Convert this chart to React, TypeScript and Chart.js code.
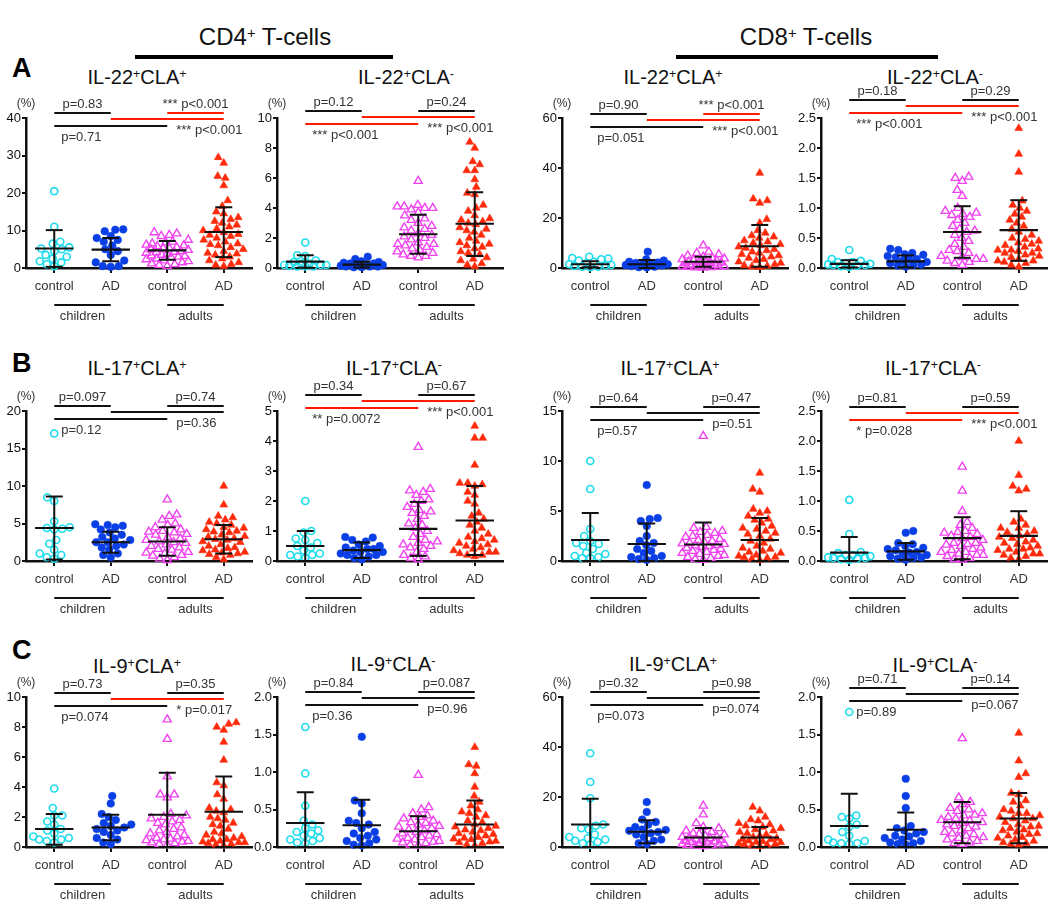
import React, { useEffect, useRef } from "react";
import { Chart, registerables } from "chart.js";
Chart.register(...registerables);

const FONT = '"Liberation Sans", Arial, Helvetica, sans-serif';

// ---------- labels ----------
const CATEGORIES = ["control", "AD", "control", "AD"];
const AGE_GROUPS = ["children", "adults"];
const SUBSETS = ["CD4", "CD8"];
const ROW_LETTERS = ["A", "B", "C"];
const CYTOKINES = ["IL-22", "IL-17", "IL-9"];
const CLA_SIGNS = ["+", "-", "+", "-"];
const UNIT_LABEL = "(%)";

// ---------- y axes (per panel, row-major A1..C4) ----------
const Y_MAX = [40, 10, 60, 2.5, 20, 5, 15, 2.5, 10, 2, 60, 2];
const Y_STEP = [10, 2, 20, 0.5, 5, 1, 5, 0.5, 2, 0.5, 20, 0.5];

// ---------- A: IL-22 ----------
const A1_cc = [20.5, 11, 7, 6.5, 5.5, 5.2, 5, 4.5, 3.5, 3, 2.5, 1.8, 1.5, 1, 0.5];
const A1_ca = [10.3, 10.2, 9.8, 8.5, 8, 7.5, 7, 6, 5, 4.5, 3.5, 2, 1.5, 0.5, 0.3, 0.5];
const A1_ac = [9.5, 9.2, 8.8, 8.5, 7.5, 7, 6.8, 6.5, 6.2, 6, 5.8, 5.5, 5.2, 5, 4.8, 4.5, 4.2, 4, 3.8, 3.5, 3.2, 3, 2.8, 2.5, 2.3, 2, 1.8, 1.5, 1.2, 1, 0.8, 0.5, 3.3, 4.3, 5.3];
const A1_aa = [29.5, 28, 24.5, 24, 22, 18, 16.5, 15, 14.5, 13.5, 13, 12.5, 12, 11.5, 11, 10.5, 10, 9.5, 9, 8.5, 8, 7.5, 7, 6.5, 6, 5.5, 5, 4.5, 4, 3.5, 3, 2.5, 2, 1.5, 1, 0.8, 0.5, 3.8, 6.3, 8.8];
const A1_mean = [5.2, 4.9, 4.7, 9.6];
const A1_low = [0.3, 1.8, 2.2, 2.9];
const A1_high = [10.1, 8.0, 7.2, 16.2];
const A1_p = ["p=0.83", "*** p<0.001", "p=0.71", "*** p<0.001"];
const A1_sig = [false, true, false, true];

const A2_cc = [1.7, 0.85, 0.8, 0.5, 0.3, 0.2, 0.2, 0.15, 0.1, 0.1, 0.3, 0.4, 0.2, 0.1];
const A2_ca = [0.75, 0.6, 0.45, 0.4, 0.35, 0.3, 0.25, 0.2, 0.2, 0.15, 0.1, 0.1, 0.1, 0.05, 0.05, 0.3];
const A2_ac = [5.8, 4.2, 4.1, 4.0, 4.0, 3.9, 3.5, 3.3, 3.2, 3.0, 2.8, 2.6, 2.5, 2.3, 2.2, 2.0, 1.9, 1.7, 1.6, 1.5, 1.4, 1.3, 1.2, 1.1, 1.0, 0.9, 0.8, 0.7, 0.8, 1.6, 2.1, 2.7, 3.7, 4.1];
const A2_aa = [8.4, 8.0, 7.1, 6.9, 6.5, 6.5, 5.9, 5.4, 5.0, 4.9, 4.2, 3.8, 3.5, 3.3, 3.1, 3.0, 2.9, 2.7, 2.5, 2.4, 2.2, 2.0, 1.8, 1.7, 1.5, 1.3, 1.1, 1.0, 0.9, 0.7, 0.6, 0.5, 0.3, 0.2, 0.1, 1.4, 2.6, 3.2, 4.0, 1.6];
const A2_mean = [0.42, 0.23, 2.25, 2.95];
const A2_low = [0.02, 0.03, 0.95, 0.8];
const A2_high = [0.85, 0.42, 3.55, 5.05];
const A2_p = ["p=0.12", "p=0.24", "*** p<0.001", "*** p<0.001"];
const A2_sig = [false, false, true, true];

const A3_cc = [4.5, 4, 3.8, 3.5, 3, 2, 1.5, 1, 0.8, 0.5, 0.5, 1.2, 2.5, 0.3];
const A3_ca = [6.5, 3.5, 3, 2.5, 2, 1.8, 1.5, 1.2, 1, 0.8, 0.5, 0.3, 0.2, 1.5, 2.2];
const A3_ac = [9, 6.5, 6, 5.5, 5, 4.5, 4, 3.8, 3.5, 3, 2.8, 2.5, 2.2, 2, 1.8, 1.5, 1.2, 1, 0.8, 0.5, 0.3, 0.2, 0.1, 1.5, 2.5, 3.2, 1.2, 0.6, 0.4, 0.7];
const A3_aa = [38, 27.7, 27, 26, 19.5, 18, 15, 14, 13, 12.5, 12, 11, 10, 9.5, 9, 8, 7.5, 7, 6.5, 6, 5.5, 5, 4.5, 4, 3.5, 3, 2.5, 2, 1.5, 1, 0.8, 0.5, 0.3, 8.5, 10.5];
const A3_mean = [1.5, 1.5, 2.5, 8.7];
const A3_low = [0.3, 0, 0.5, 0.5];
const A3_high = [2.7, 3.2, 4.5, 17.2];
const A3_p = ["p=0.90", "*** p<0.001", "p=0.051", "*** p<0.001"];
const A3_sig = [false, true, false, true];

const A4_cc = [0.3, 0.15, 0.12, 0.1, 0.08, 0.06, 0.05, 0.04, 0.03, 0.02, 0.1, 0.05, 0.07];
const A4_ca = [0.32, 0.3, 0.25, 0.23, 0.22, 0.2, 0.18, 0.15, 0.12, 0.1, 0.08, 0.05, 0.04, 0.02, 0.06, 0.14];
const A4_ac = [1.52, 1.45, 1.5, 1.3, 1.2, 1.0, 0.95, 0.92, 0.9, 0.85, 0.8, 0.75, 0.7, 0.65, 0.6, 0.55, 0.5, 0.45, 0.4, 0.35, 0.3, 0.25, 0.2, 0.18, 0.15, 0.12, 0.1, 0.08, 0.05, 0.15, 0.28, 0.62, 0.88];
const A4_aa = [2.33, 1.9, 1.6, 1.12, 1.05, 1.0, 0.95, 0.9, 0.85, 0.8, 0.75, 0.7, 0.65, 0.6, 0.55, 0.5, 0.45, 0.4, 0.38, 0.35, 0.32, 0.3, 0.28, 0.25, 0.22, 0.2, 0.18, 0.15, 0.12, 0.1, 0.08, 0.05, 0.02, 0.42, 0.48, 0.3, 0.25, 0.12];
const A4_mean = [0.07, 0.11, 0.6, 0.63];
const A4_low = [0.01, 0.01, 0.17, 0.12];
const A4_high = [0.13, 0.21, 1.03, 1.13];
const A4_p = ["p=0.18", "p=0.29", "*** p<0.001", "*** p<0.001"];
const A4_sig = [false, false, true, true];

// ---------- B: IL-17 ----------
const B1_cc = [17, 8.5, 8, 5.3, 4.5, 4.4, 4.3, 4.2, 2.8, 2.3, 1.5, 1.0, 0.8, 0.5, 0.3];
const B1_ca = [4.9, 4.8, 4.7, 4.5, 4.2, 3.8, 3.5, 3.0, 2.5, 2.5, 2.2, 2.0, 1.8, 1.5, 1.0, 0.8, 0.5, 3.2, 2.8];
const B1_ac = [8.2, 6.2, 6.0, 5.5, 5.0, 4.8, 4.5, 4.2, 4.0, 3.8, 3.5, 3.2, 3.0, 2.8, 2.5, 2.2, 2.0, 1.8, 1.5, 1.2, 1.0, 0.8, 0.5, 0.3, 0.1, 1.6, 2.4, 3.6, 1.1, 0.7, 2.6, 3.9];
const B1_aa = [10, 7.5, 6.0, 5.8, 5.5, 5.2, 5.0, 4.8, 4.5, 4.2, 4.0, 3.8, 3.5, 3.2, 3.0, 2.8, 2.5, 2.2, 2.0, 1.8, 1.5, 1.2, 1.0, 0.8, 0.5, 0.2, 2.6, 3.3, 4.4, 1.7, 1.4, 2.9, 3.9, 1.1, 0.9];
const B1_mean = [4.4, 2.5, 2.6, 2.9];
const B1_low = [0.2, 1.1, 0.7, 1.0];
const B1_high = [8.6, 3.9, 4.5, 4.8];
const B1_p = ["p=0.097", "p=0.74", "p=0.12", "p=0.36"];
const B1_sig = [false, false, false, false];

const B2_cc = [2.0, 1.0, 0.95, 0.75, 0.7, 0.6, 0.5, 0.45, 0.35, 0.25, 0.2, 0.15, 0.1, 0.2];
const B2_ca = [0.8, 0.78, 0.7, 0.65, 0.55, 0.5, 0.45, 0.4, 0.35, 0.3, 0.25, 0.2, 0.2, 0.15, 0.1, 0.05, 0.3, 0.4];
const B2_ac = [3.8, 2.4, 2.35, 2.3, 2.2, 2.0, 1.9, 1.8, 1.7, 1.6, 1.5, 1.4, 1.2, 1.1, 1.0, 0.9, 0.8, 0.7, 0.6, 0.55, 0.5, 0.4, 0.3, 0.2, 0.15, 0.1, 0.05, 1.25, 0.65, 0.45, 1.65, 2.05];
const B2_aa = [4.5, 4.1, 4.1, 3.2, 2.6, 2.6, 2.55, 2.5, 2.3, 2.0, 1.9, 1.5, 1.4, 1.3, 1.2, 1.0, 0.9, 0.8, 0.7, 0.6, 0.55, 0.5, 0.45, 0.4, 0.35, 0.3, 0.25, 0.2, 0.15, 1.6, 0.65, 1.1, 2.2, 0.75, 0.3, 0.2];
const B2_mean = [0.5, 0.36, 1.07, 1.35];
const B2_low = [0, 0.1, 0.17, 0.2];
const B2_high = [1.0, 0.62, 1.97, 2.5];
const B2_p = ["p=0.34", "p=0.67", "** p=0.0072", "*** p<0.001"];
const B2_sig = [false, false, true, true];

const B3_cc = [10, 7.2, 3.2, 2.5, 2.0, 1.8, 1.7, 1.5, 1.2, 0.8, 0.7, 0.5, 0.4, 0.3, 0.3];
const B3_ca = [7.6, 4.3, 4.2, 4.0, 3.5, 2.5, 2.0, 1.8, 1.6, 1.2, 1.0, 0.8, 0.5, 0.4, 0.3, 0.2, 0.1];
const B3_ac = [12.5, 3.4, 3.3, 3.0, 2.8, 2.6, 2.5, 2.4, 2.2, 2.0, 1.9, 1.8, 1.7, 1.6, 1.5, 1.4, 1.3, 1.2, 1.1, 1.0, 0.9, 0.8, 0.6, 0.5, 0.4, 0.3, 0.2, 0.1, 2.1, 1.55, 0.7, 2.9, 1.75];
const B3_aa = [8.8, 7.2, 6.9, 5.2, 5.0, 4.8, 4.5, 4.2, 3.8, 3.5, 3.2, 3.0, 2.8, 2.5, 2.2, 2.0, 1.8, 1.5, 1.2, 1.0, 0.8, 0.6, 0.5, 0.4, 0.3, 0.2, 0.1, 4.1, 2.7, 1.3, 0.9, 0.35, 3.3];
const B3_mean = [2.1, 1.7, 1.65, 2.1];
const B3_low = [0, 0, 0, 0];
const B3_high = [4.8, 3.75, 3.85, 4.3];
const B3_p = ["p=0.64", "p=0.47", "p=0.57", "p=0.51"];
const B3_sig = [false, false, false, false];

const B4_cc = [1.02, 0.45, 0.15, 0.13, 0.1, 0.08, 0.06, 0.05, 0.04, 0.03, 0.02, 0.05, 0.1];
const B4_ca = [0.5, 0.47, 0.3, 0.28, 0.25, 0.2, 0.18, 0.15, 0.12, 0.1, 0.08, 0.06, 0.05, 0.04, 0.02, 0.14, 0.22];
const B4_ac = [1.57, 1.17, 0.83, 0.65, 0.6, 0.55, 0.5, 0.48, 0.45, 0.42, 0.4, 0.38, 0.35, 0.3, 0.28, 0.25, 0.22, 0.2, 0.18, 0.15, 0.12, 0.1, 0.08, 0.05, 0.03, 0.02, 0.3, 0.15, 0.1, 0.47, 0.27];
const B4_aa = [2.0, 1.43, 1.25, 1.2, 1.17, 0.7, 0.65, 0.6, 0.55, 0.5, 0.48, 0.45, 0.42, 0.4, 0.38, 0.35, 0.3, 0.28, 0.25, 0.22, 0.2, 0.18, 0.15, 0.12, 0.1, 0.08, 0.05, 0.03, 0.55, 0.32, 0.2, 0.12];
const B4_mean = [0.14, 0.16, 0.38, 0.42];
const B4_low = [0, 0.02, 0.03, 0];
const B4_high = [0.4, 0.3, 0.73, 0.83];
const B4_p = ["p=0.81", "p=0.59", "* p=0.028", "*** p<0.001"];
const B4_sig = [false, false, true, true];

// ---------- C: IL-9 ----------
const C1_cc = [3.9, 2.6, 2.1, 2.1, 1.7, 1.5, 1.2, 1.1, 0.9, 0.7, 0.6, 0.5, 0.4, 0.3, 0.5];
const C1_ca = [3.4, 2.9, 2.2, 2.0, 1.8, 1.6, 1.4, 1.3, 1.2, 1.1, 1.0, 0.8, 0.6, 0.5, 0.3, 0.2, 1.5];
const C1_ac = [8.5, 7.2, 4.7, 3.5, 3.5, 3.3, 2.2, 2.0, 1.8, 1.7, 1.5, 1.3, 1.2, 1.0, 0.9, 0.8, 0.7, 0.6, 0.5, 0.4, 0.35, 0.3, 0.25, 0.2, 0.15, 1.9, 1.1, 0.55, 0.45, 2.1, 1.6];
const C1_aa = [8.3, 8.0, 8.2, 7.8, 7.0, 5.8, 4.3, 4.1, 3.2, 2.6, 2.5, 2.3, 2.0, 1.8, 1.6, 1.4, 1.2, 1.0, 0.8, 0.7, 0.6, 0.5, 0.4, 0.35, 0.3, 0.25, 0.2, 0.15, 0.1, 1.5, 0.9, 0.5, 0.3, 2.4, 1.9, 3.5];
const C1_mean = [1.2, 1.3, 2.15, 2.35];
const C1_low = [0.15, 0.45, 0, 0];
const C1_high = [2.2, 2.15, 4.95, 4.7];
const C1_p = ["p=0.73", "p=0.35", "p=0.074", "* p=0.017"];
const C1_sig = [false, false, false, true];

const C2_cc = [1.6, 0.98, 0.55, 0.35, 0.3, 0.25, 0.22, 0.2, 0.18, 0.15, 0.12, 0.1, 0.08, 0.06, 0.05];
const C2_ca = [1.47, 0.62, 0.58, 0.45, 0.35, 0.32, 0.3, 0.25, 0.2, 0.18, 0.15, 0.12, 0.1, 0.08, 0.05, 0.03, 0.02];
const C2_ac = [0.96, 0.53, 0.5, 0.45, 0.42, 0.4, 0.38, 0.35, 0.32, 0.3, 0.28, 0.25, 0.22, 0.2, 0.18, 0.15, 0.12, 0.1, 0.08, 0.06, 0.05, 0.03, 0.02, 0.27, 0.17, 0.13, 0.33, 0.07, 0.23, 0.11];
const C2_aa = [1.33, 1.1, 1.08, 0.98, 0.8, 0.68, 0.6, 0.55, 0.5, 0.47, 0.45, 0.42, 0.4, 0.35, 0.3, 0.28, 0.25, 0.22, 0.2, 0.18, 0.15, 0.12, 0.1, 0.08, 0.06, 0.05, 0.03, 0.02, 0.27, 0.17, 0.13, 0.07, 0.23, 0.33, 0.11];
const C2_mean = [0.32, 0.29, 0.21, 0.3];
const C2_low = [0, 0, 0, 0];
const C2_high = [0.73, 0.63, 0.41, 0.62];
const C2_p = ["p=0.84", "p=0.087", "p=0.36", "p=0.96"];
const C2_sig = [false, false, false, false];

const C3_cc = [37.5, 26, 19.5, 9, 8.5, 7.5, 7, 5, 4, 3.5, 3, 2.5, 2, 1.5, 1];
const C3_ca = [18, 14, 11, 10, 9, 8, 7, 6.5, 6, 5.5, 5, 4, 3, 2.5, 1.5, 1.2, 6.8];
const C3_ac = [16.5, 13, 9.5, 8, 7.5, 6.5, 6, 5.5, 5, 4.5, 4, 3.5, 3, 2.8, 2.5, 2.2, 2, 1.8, 1.5, 1.2, 1, 0.8, 0.5, 0.3, 5.2, 3.8, 2.4, 1.4, 0.6, 4.2];
const C3_aa = [16, 14.5, 11, 10.5, 9, 8.5, 8, 7.5, 7, 6.5, 6, 5.5, 5, 4.5, 4, 3.5, 3, 2.5, 2, 1.8, 1.5, 1.2, 1, 0.8, 0.5, 0.3, 12, 9.5, 3.2, 2.2];
const C3_mean = [9, 6.1, 3.8, 3.8];
const C3_low = [0, 1.5, 0, 0];
const C3_high = [19.3, 10.7, 7.6, 8];
const C3_p = ["p=0.32", "p=0.98", "p=0.073", "p=0.074"];
const C3_sig = [false, false, false, false];

const C4_cc = [1.8, 0.42, 0.4, 0.38, 0.3, 0.27, 0.2, 0.15, 0.1, 0.08, 0.06, 0.05, 0.04, 0.05];
const C4_ca = [0.91, 0.68, 0.52, 0.28, 0.25, 0.22, 0.2, 0.18, 0.15, 0.12, 0.1, 0.08, 0.06, 0.05, 0.04, 0.03, 0.14];
const C4_ac = [1.45, 0.66, 0.6, 0.57, 0.5, 0.48, 0.45, 0.42, 0.4, 0.38, 0.35, 0.32, 0.3, 0.28, 0.25, 0.22, 0.2, 0.18, 0.15, 0.12, 0.1, 0.08, 0.06, 0.05, 0.04, 0.33, 0.27, 0.17, 0.43, 0.13, 0.36, 0.52];
const C4_aa = [1.52, 1.15, 0.98, 0.93, 0.72, 0.7, 0.6, 0.55, 0.5, 0.48, 0.45, 0.42, 0.4, 0.38, 0.35, 0.3, 0.28, 0.25, 0.22, 0.2, 0.18, 0.15, 0.12, 0.1, 0.08, 0.06, 0.05, 0.04, 0.03, 0.33, 0.27, 0.17, 0.45, 0.13, 0.38, 0.23, 0.62];
const C4_mean = [0.28, 0.23, 0.33, 0.38];
const C4_low = [0, 0, 0.05, 0.05];
const C4_high = [0.71, 0.46, 0.6, 0.72];
const C4_p = ["p=0.71", "p=0.14", "p=0.89", "p=0.067"];
const C4_sig = [false, false, false, false];

// ---------- layout (positions / styles only) ----------
const COL_X = [26, 277, 562, 821];
const ROW_TOP = [118, 411, 697];
const PLOT_H = 150;
const PLOT_W = 226;
const Y_AXIS_W = 26;
const PAD_TOP = 45;
const X_AXIS_H = 60;
const PAD_RIGHT = 14;
const BRACKET_BASE = [-5, -7, -4, -18, -5, -16, -4, -4, -4, -5, -5, -9];
const TITLE_POS: [number, number][] = [
  [137, 77], [406, 77], [673, 77], [935, 77],
  [137, 368], [394, 368], [670, 368], [933, 368],
  [137, 666], [393, 664], [673, 664], [935, 665],
];
const LETTER_Y = [69, 364, 651];

const GROUP_STYLES = [
  { pointStyle: "circle", radius: 3.5, bg: "rgba(0,0,0,0)", border: "#1fdcec", bw: 1.7 },
  { pointStyle: "circle", radius: 3.8, bg: "#0b3fe6", border: "#0b3fe6", bw: 0.6 },
  { pointStyle: "triangle", radius: 4.7, bg: "rgba(0,0,0,0)", border: "#f044f0", bw: 1.4 },
  { pointStyle: "triangle", radius: 4.5, bg: "#ff2a0a", border: "#ff2a0a", bw: 0.6 },
];

type PanelDef = {
  idx: number;
  groups: number[][];
  mean: number[];
  low: number[];
  high: number[];
  pText: string[];
  sig: boolean[];
};

const PANELS: PanelDef[] = [
  { idx: 0, groups: [A1_cc, A1_ca, A1_ac, A1_aa], mean: A1_mean, low: A1_low, high: A1_high, pText: A1_p, sig: A1_sig },
  { idx: 1, groups: [A2_cc, A2_ca, A2_ac, A2_aa], mean: A2_mean, low: A2_low, high: A2_high, pText: A2_p, sig: A2_sig },
  { idx: 2, groups: [A3_cc, A3_ca, A3_ac, A3_aa], mean: A3_mean, low: A3_low, high: A3_high, pText: A3_p, sig: A3_sig },
  { idx: 3, groups: [A4_cc, A4_ca, A4_ac, A4_aa], mean: A4_mean, low: A4_low, high: A4_high, pText: A4_p, sig: A4_sig },
  { idx: 4, groups: [B1_cc, B1_ca, B1_ac, B1_aa], mean: B1_mean, low: B1_low, high: B1_high, pText: B1_p, sig: B1_sig },
  { idx: 5, groups: [B2_cc, B2_ca, B2_ac, B2_aa], mean: B2_mean, low: B2_low, high: B2_high, pText: B2_p, sig: B2_sig },
  { idx: 6, groups: [B3_cc, B3_ca, B3_ac, B3_aa], mean: B3_mean, low: B3_low, high: B3_high, pText: B3_p, sig: B3_sig },
  { idx: 7, groups: [B4_cc, B4_ca, B4_ac, B4_aa], mean: B4_mean, low: B4_low, high: B4_high, pText: B4_p, sig: B4_sig },
  { idx: 8, groups: [C1_cc, C1_ca, C1_ac, C1_aa], mean: C1_mean, low: C1_low, high: C1_high, pText: C1_p, sig: C1_sig },
  { idx: 9, groups: [C2_cc, C2_ca, C2_ac, C2_aa], mean: C2_mean, low: C2_low, high: C2_high, pText: C2_p, sig: C2_sig },
  { idx: 10, groups: [C3_cc, C3_ca, C3_ac, C3_aa], mean: C3_mean, low: C3_low, high: C3_high, pText: C3_p, sig: C3_sig },
  { idx: 11, groups: [C4_cc, C4_ca, C4_ac, C4_aa], mean: C4_mean, low: C4_low, high: C4_high, pText: C4_p, sig: C4_sig },
];

// deterministic beeswarm placement (horizontal spread only, in category units)
function swarm(vals: number[], yMax: number): number[] {
  const py = PLOT_H / yMax;
  const D = 7.6;
  const MAXO = 21;
  const order = vals.map((_, i) => i).sort((a, b) => vals[a] - vals[b]);
  const placed: [number, number][] = [];
  const out = new Array(vals.length).fill(0);
  order.forEach((i, k) => {
    const y = vals[i] * py;
    const sgn = k % 2 === 0 ? 1 : -1;
    let best = 0;
    let bestD = -1;
    let done = false;
    for (let s = 0; s <= MAXO && !done; s += 0.5) {
      const cands = s === 0 ? [0] : [s * sgn, -s * sgn];
      for (const x of cands) {
        let md = Infinity;
        for (const [px, pyy] of placed) {
          const d = Math.hypot(px - x, pyy - y);
          if (d < md) md = d;
        }
        if (md >= D) {
          best = x;
          done = true;
          break;
        }
        if (md > bestD) {
          bestD = md;
          best = x;
        }
      }
    }
    placed.push([best, y]);
    out[i] = best / (PLOT_W / 4);
  });
  return out;
}

function seg(ctx: CanvasRenderingContext2D, x1: number, y1: number, x2: number, y2: number) {
  ctx.beginPath();
  ctx.moveTo(x1, y1);
  ctx.lineTo(x2, y2);
  ctx.stroke();
}

function overlayPlugin(p: PanelDef) {
  return {
    id: "overlay",
    afterDatasetsDraw(chart: any) {
      const ctx: CanvasRenderingContext2D = chart.ctx;
      const xs = chart.scales.x;
      const ys = chart.scales.y;
      ctx.save();
      ctx.strokeStyle = "#111";
      ctx.lineCap = "butt";
      for (let g = 0; g < 4; g++) {
        const cx = xs.getPixelForValue(g);
        const hw = xs.getPixelForValue(g + 0.34) - cx;
        const cw = xs.getPixelForValue(g + 0.15) - cx;
        const ym = ys.getPixelForValue(p.mean[g]);
        const yl = ys.getPixelForValue(p.low[g]);
        const yh = ys.getPixelForValue(p.high[g]);
        ctx.lineWidth = 2;
        seg(ctx, cx, yl, cx, yh);
        seg(ctx, cx - cw, yh, cx + cw, yh);
        seg(ctx, cx - cw, yl, cx + cw, yl);
        ctx.lineWidth = 2.2;
        seg(ctx, cx - hw, ym, cx + hw, ym);
      }
      ctx.restore();
    },
    afterDraw(chart: any) {
      const ctx: CanvasRenderingContext2D = chart.ctx;
      const xs = chart.scales.x;
      const { top, bottom, left } = chart.chartArea;
      const X = (v: number) => xs.getPixelForValue(v);
      const b = top + BRACKET_BASE[p.idx];
      ctx.save();
      // comparison lines: [from, to, y, index into pText/sig]
      const lines: [number, number, number, number][] = [
        [0, 1, b, 0],
        [2, 3, b, 1],
        [1, 3, b + 6, 3],
        [0, 2, b + 13, 2],
      ];
      ctx.lineWidth = 2;
      for (const [a, c, y, k] of lines) {
        ctx.strokeStyle = p.sig[k] ? "#ff1a00" : "#111";
        seg(ctx, X(a), y, X(c), y);
      }
      ctx.font = `13px ${FONT}`;
      ctx.fillStyle = "#333";
      ctx.textBaseline = "middle";
      ctx.textAlign = "center";
      ctx.fillText(p.pText[0], X(0.5), b - 9);
      ctx.fillText(p.pText[1], X(2.5), b - 9);
      ctx.textAlign = "left";
      ctx.fillText(p.pText[2], X(0) + 7, b + 24);
      ctx.fillText(p.pText[3], X(2) + 9, b + 17);
      // unit label
      ctx.font = `12px ${FONT}`;
      ctx.textAlign = "center";
      ctx.fillText(UNIT_LABEL, left, top - 14);
      // age groups
      ctx.strokeStyle = "#111";
      ctx.lineWidth = 2;
      seg(ctx, X(0), bottom + 37, X(1), bottom + 37);
      seg(ctx, X(2), bottom + 37, X(3), bottom + 37);
      ctx.font = `13px ${FONT}`;
      ctx.fillStyle = "#333";
      ctx.fillText(AGE_GROUPS[0], X(0.5), bottom + 48);
      ctx.fillText(AGE_GROUPS[1], X(2.5), bottom + 48);
      ctx.restore();
    },
  };
}

function makeConfig(p: PanelDef): any {
  const yMax = Y_MAX[p.idx];
  const step = Y_STEP[p.idx];
  const dec = step < 1 ? 1 : 0;
  const datasets = p.groups.map((vals, g) => {
    const jit = swarm(vals, yMax);
    const st = GROUP_STYLES[g];
    return {
      label: CATEGORIES[g],
      data: vals.map((v, i) => ({ x: g + jit[i], y: v })),
      pointStyle: st.pointStyle,
      pointRadius: st.radius,
      pointBackgroundColor: st.bg,
      pointBorderColor: st.border,
      pointBorderWidth: st.bw,
      showLine: false,
      clip: false,
    };
  });
  const yTicks: number[] = [];
  for (let k = 0; k * step <= yMax + 1e-9; k++) yTicks.push(+(k * step).toFixed(3));
  return {
    type: "scatter",
    data: { datasets },
    options: {
      responsive: false,
      maintainAspectRatio: false,
      animation: false,
      events: [],
      layout: { padding: { left: 0, top: PAD_TOP, right: PAD_RIGHT, bottom: 0 } },
      plugins: { legend: { display: false }, tooltip: { enabled: false } },
      scales: {
        x: {
          type: "linear",
          min: -0.5,
          max: 3.5,
          afterBuildTicks: (ax: any) => {
            ax.ticks = [0, 1, 2, 3].map((v) => ({ value: v }));
          },
          afterFit: (ax: any) => {
            ax.height = X_AXIS_H;
          },
          ticks: {
            autoSkip: false,
            maxRotation: 0,
            padding: 6,
            color: "#333",
            font: { family: FONT, size: 13 },
            callback: (_v: any, i: number) => CATEGORIES[i],
          },
          grid: { display: true, drawOnChartArea: false, drawTicks: true, tickLength: 5, color: "#111", lineWidth: 2 },
          border: { display: true, color: "#111", width: 2.5 },
        },
        y: {
          type: "linear",
          min: 0,
          max: yMax,
          afterBuildTicks: (ax: any) => {
            ax.ticks = yTicks.map((v) => ({ value: v }));
          },
          afterFit: (ax: any) => {
            ax.width = Y_AXIS_W;
          },
          ticks: {
            padding: 1,
            color: "#111",
            font: { family: FONT, size: 13 },
            callback: (v: any) => Number(v).toFixed(dec),
          },
          grid: { display: true, drawOnChartArea: false, drawTicks: true, tickLength: 4, color: "#111", lineWidth: 2 },
          border: { display: true, color: "#111", width: 2.5 },
        },
      },
    },
    plugins: [overlayPlugin(p)],
  };
}

function Panel({ p }: { p: PanelDef }) {
  const ref = useRef<HTMLCanvasElement>(null);
  const col = p.idx % 4;
  const row = Math.floor(p.idx / 4);
  const left = COL_X[col] - Y_AXIS_W;
  const top = ROW_TOP[row] - PAD_TOP;
  const w = Y_AXIS_W + PLOT_W + PAD_RIGHT;
  const h = PAD_TOP + PLOT_H + X_AXIS_H;
  useEffect(() => {
    const chart = new Chart(ref.current as HTMLCanvasElement, makeConfig(p));
    return () => chart.destroy();
  }, []);
  return (
    <canvas
      ref={ref}
      width={w}
      height={h}
      style={{ position: "absolute", left, top, width: w, height: h }}
    />
  );
}

const Sup = ({ c }: { c: string }) => (
  <span style={{ fontSize: "0.62em", verticalAlign: "0.45em", lineHeight: 0 }}>{c}</span>
);

function PanelTitle({ i }: { i: number }) {
  const [x, y] = TITLE_POS[i];
  const fs = 20;
  return (
    <div
      style={{
        position: "absolute",
        left: x - 100,
        top: y - fs / 2,
        width: 200,
        textAlign: "center",
        fontSize: fs,
        lineHeight: `${fs}px`,
        fontFamily: FONT,
        color: "#111",
        whiteSpace: "nowrap",
      }}
    >
      {CYTOKINES[Math.floor(i / 4)]}
      <Sup c="+" />
      CLA
      <Sup c={CLA_SIGNS[i % 4]} />
    </div>
  );
}

function Header({ i }: { i: number }) {
  const cx = i === 0 ? 265 : 806;
  const barL = i === 0 ? 135 : 676;
  const barW = i === 0 ? 258 : 262;
  const fs = 24;
  return (
    <>
      <div
        style={{
          position: "absolute",
          left: cx - 150,
          top: 37 - fs / 2,
          width: 300,
          textAlign: "center",
          fontSize: fs,
          lineHeight: `${fs}px`,
          fontFamily: FONT,
          color: "#111",
          whiteSpace: "nowrap",
        }}
      >
        {SUBSETS[i]}
        <Sup c="+" /> T-cells
      </div>
      <div style={{ position: "absolute", left: barL, top: 55, width: barW, height: 4, background: "#000" }} />
    </>
  );
}

export default function App() {
  return (
    <div
      style={{
        position: "absolute",
        left: 0,
        top: 0,
        width: 1050,
        height: 904,
        background: "#fff",
        overflow: "hidden",
        fontFamily: FONT,
      }}
    >
      <Header i={0} />
      <Header i={1} />
      {ROW_LETTERS.map((L, r) => (
        <div
          key={L}
          style={{
            position: "absolute",
            left: 12,
            top: LETTER_Y[r] - 14,
            fontSize: 27,
            lineHeight: "27px",
            fontWeight: 700,
            fontFamily: FONT,
            color: "#000",
          }}
        >
          {L}
        </div>
      ))}
      {PANELS.map((p) => (
        <PanelTitle key={"t" + p.idx} i={p.idx} />
      ))}
      {PANELS.map((p) => (
        <Panel key={"p" + p.idx} p={p} />
      ))}
    </div>
  );
}
